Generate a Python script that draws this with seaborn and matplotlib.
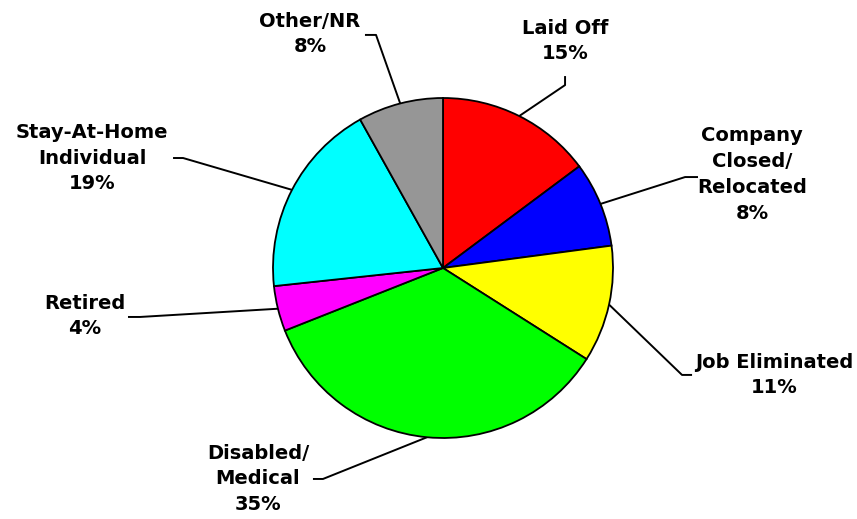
import numpy as np
import seaborn as sns
import matplotlib.pyplot as plt

categories = ["Laid Off", "Company\nClosed/\nRelocated", "Job Eliminated", "Disabled/\nMedical",
              "Retired", "Stay-At-Home\nIndividual", "Other/NR"]
shares = [14.8, 8.1, 11.1, 35.0, 4.3, 18.6, 8.1]
pct_labels = ["15%", "8%", "11%", "35%", "4%", "19%", "8%"]
colors = ["#FF0000", "#0000FF", "#FFFF00", "#00FF00", "#FF00FF", "#00FFFF", "#969696"]

# label layout: (elbow x, elbow y, line end x, text x, text y) in pie-radius units
label_layout = [
    (0.718, 1.076, 0.718, 0.718, 1.335),
    (1.424, 0.535, 1.50, 1.818, 0.55),
    (1.406, -0.629, 1.465, 1.947, -0.629),
    (-0.706, -1.241, -0.765, -1.088, -1.241),
    (-1.782, -0.288, -1.853, -2.106, -0.282),
    (-1.529, 0.647, -1.588, -2.065, 0.647),
    (-0.394, 1.371, -0.459, -0.782, 1.376),
]

sns.set_theme(style="white")
plt.rcParams['font.family'] = ['DejaVu Sans']

fig = plt.figure(figsize=(8.57, 5.19), dpi=100)
ax = fig.add_axes([0, 0, 1, 1])

wedges, _ = ax.pie(shares, colors=colors, startangle=90, counterclock=False, radius=1,
                   wedgeprops=dict(edgecolor="black", linewidth=1.3))

for w, cat, pct, lay in zip(wedges, categories, pct_labels, label_layout):
    ang = np.deg2rad((w.theta1 + w.theta2) / 2)
    x0, y0 = np.cos(ang), np.sin(ang)
    ex, ey, lx, tx, ty = lay
    ax.plot([x0, ex, lx], [y0, ey, ey if lx != ex else ey + 0.053], color="black", lw=1.4,
            solid_capstyle="butt", zorder=0)
    ax.text(tx, ty, cat + "\n" + pct, ha="center", va="center", fontsize=14,
            fontweight="bold", linespacing=1.45, color="black")

ax.set_xlim(-443 / 170, 414 / 170)
ax.set_ylim(-251 / 170, 268 / 170)
ax.set_aspect("auto")
ax.axis("off")

fig.savefig("out.png", dpi=100)
